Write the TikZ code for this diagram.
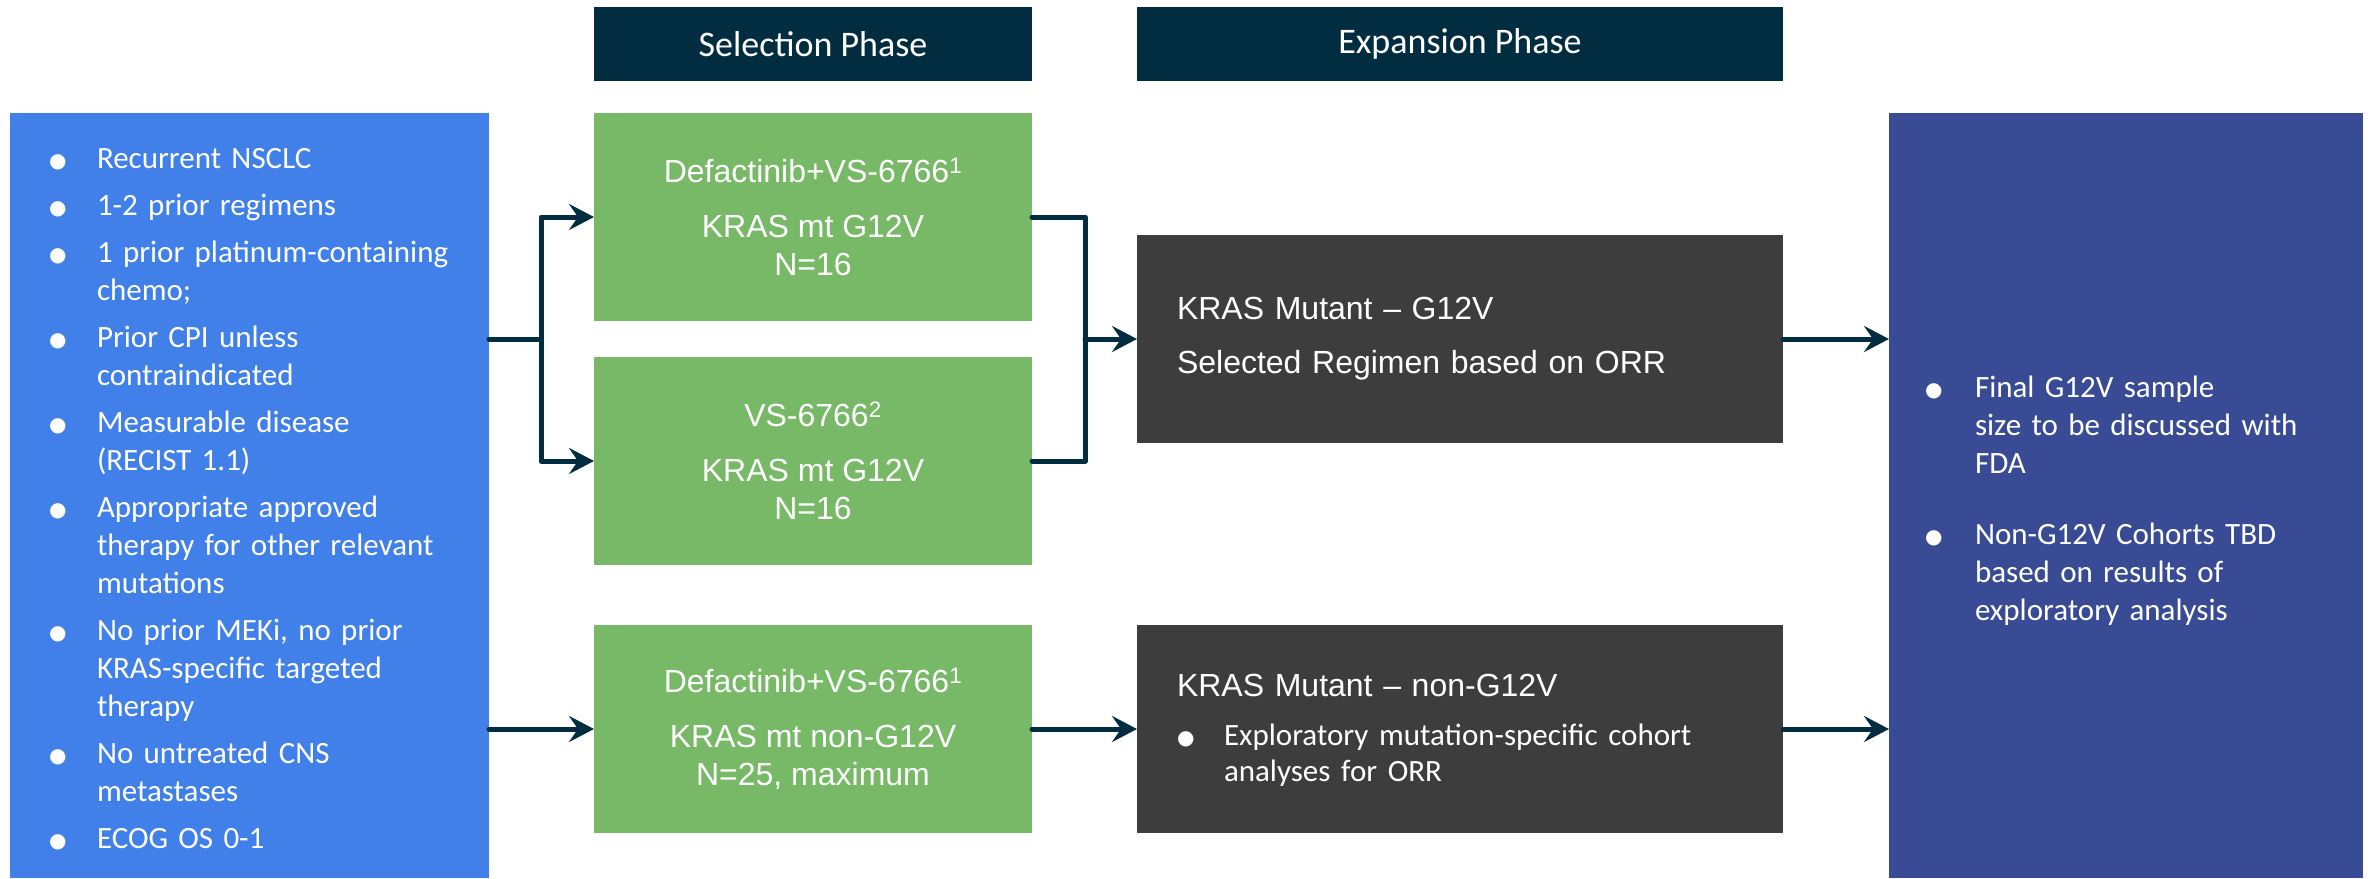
\documentclass[tikz,border=0pt]{standalone}
\usepackage{fontspec}
\setmainfont{Liberation Sans}
\newfontfamily\calfont{Carlito}
\newfontfamily\dotfont{DejaVu Sans}
\usetikzlibrary{arrows.meta}

\definecolor{inclblue}{RGB}{64,128,232}
\definecolor{headnavy}{RGB}{2,45,64}
\definecolor{armgreen}{RGB}{119,185,102}
\definecolor{expgrey}{RGB}{61,61,61}
\definecolor{outblue}{RGB}{57,75,148}

% bullet in a fixed-width slot: #1 slot width, #2 indent of the dot
\newcommand{\blt}{\raisebox{1pt}{\dotfont\fontsize{20}{20}\selectfont ●}}
\newcommand{\bl}[2]{\makebox[#1][l]{\hspace*{#2}\blt}}
% move a block down by #1 inside its box
\newcommand{\shiftdown}[2]{\raisebox{-#1}[\height][\depth]{#2}}

\begin{document}
\begin{tikzpicture}[x=1pt,y=1pt,yscale=-1,
  plainbox/.style={inner ysep=0pt, outer sep=0pt, text=white},
  phasehead/.style={plainbox, fill=headnavy, minimum height=74, font=\calfont\fontsize{36}{40}\selectfont},
  armbox/.style={plainbox, fill=armgreen, minimum width=438, minimum height=208, align=center, font=\fontsize{32}{38}\selectfont},
  expbox/.style={plainbox, fill=expgrey, inner xsep=40pt, text width=566, minimum height=208, align=left, font=\fontsize{32}{37}\selectfont},
  sidebox/.style={plainbox, inner xsep=20pt, text width=439, minimum height=765, align=left, font=\calfont\fontsize{31}{38}\selectfont},
  conn/.style={draw=headnavy, line width=5pt, line cap=round, line join=round},
  arr/.style={conn, -{Stealth[length=25pt, width=26pt, inset=9pt]}}]
\useasboundingbox (0,0) rectangle (2379,878);

% Phase headers
\node[phasehead, minimum width=438] (selhead) at (813,44) {Selection Phase};
\node[phasehead, minimum width=646] (exphead) at (1460,44) {Expansion Phase};

% Eligibility
\node[sidebox, fill=inclblue] (incl) at (249.5,495.5) {\shiftdown{5pt}{%
\begin{tabular}{@{}l@{}l@{}}
\bl{67pt}{19pt} & Recurrent NSCLC\\[9pt]
\bl{67pt}{19pt} & 1-2 prior regimens\\[9pt]
\bl{67pt}{19pt} & 1 prior platinum-containing\\
 & chemo;\\[9pt]
\bl{67pt}{19pt} & Prior CPI unless\\
 & contraindicated\\[9pt]
\bl{67pt}{19pt} & Measurable disease\\
 & (RECIST 1.1)\\[9pt]
\bl{67pt}{19pt} & Appropriate approved\\
 & therapy for other relevant\\
 & mutations\\[9pt]
\bl{67pt}{19pt} & No prior MEKi, no prior\\
 & KRAS-specific targeted\\
 & therapy\\[9pt]
\bl{67pt}{19pt} & No untreated CNS\\
 & metastases\\[9pt]
\bl{67pt}{19pt} & ECOG OS 0-1
\end{tabular}}};

% Selection arms
\node[armbox] (g12vcombo) at (813,217) {Defactinib+VS-6766\textsuperscript{1}\\[17pt] KRAS mt G12V\\ N=16};
\node[armbox] (g12vmono) at (813,461) {VS-6766\textsuperscript{2}\\[17pt] KRAS mt G12V\\ N=16};
\node[armbox] (nong12v) at (813,729) {Defactinib+VS-6766\textsuperscript{1}\\[17pt] KRAS mt non-G12V\\ N=25, maximum};

% Expansion cohorts
\node[expbox] (expg12v) at (1460,339) {KRAS Mutant – G12V\\[17pt] Selected Regimen based on ORR};
\node[expbox] (expnon) at (1460,729) {\shiftdown{3pt}{%
\begin{tabular}{@{}l@{}l@{}}
\multicolumn{2}{@{}l@{}}{KRAS Mutant – non-G12V}\\[12pt]
\bl{47pt}{0pt} & \calfont\fontsize{31}{36}\selectfont Exploratory mutation-specific cohort\\[-1pt]
 & \calfont\fontsize{31}{36}\selectfont analyses for ORR
\end{tabular}}};

% Outcome
\node[sidebox, fill=outblue, minimum width=474, text width=434] (outcome) at (2126,495.5) {\shiftdown{6pt}{%
\begin{tabular}{@{}l@{}l@{}}
\bl{66pt}{16pt} & Final G12V sample\\
 & size to be discussed with\\
 & FDA\\[33pt]
\bl{66pt}{16pt} & Non-G12V Cohorts TBD\\
 & based on results of\\
 & exploratory analysis
\end{tabular}}};

%Straight Lines
\coordinate (split) at (541,339);
\coordinate (merge) at (1085,339);
\draw[conn] (incl.east |- split) -- (split);
\draw[arr] (split) |- (g12vcombo.west);
\draw[arr] (split) |- (g12vmono.west);
\draw[arr] (incl.east |- nong12v) -- (nong12v.west);
\draw[conn] (g12vcombo.east) -| (merge) |- (g12vmono.east);
\draw[arr] (merge) -- (expg12v.west);
\draw[arr] (nong12v.east) -- (expnon.west);
\draw[arr] (expg12v.east) -- (expg12v.east -| outcome.west);
\draw[arr] (expnon.east) -- (expnon.east -| outcome.west);

\end{tikzpicture}
\end{document}
